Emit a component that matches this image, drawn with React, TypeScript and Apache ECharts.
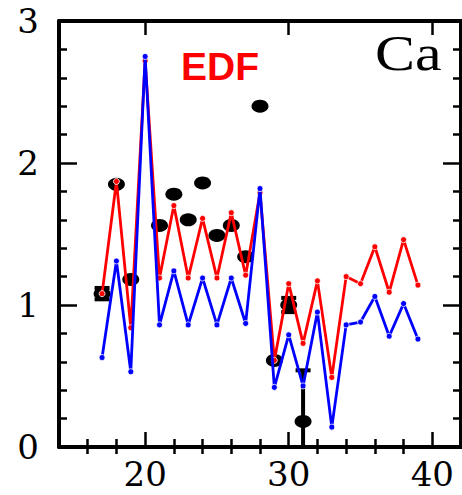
import React, { useEffect, useRef } from "react";
import * as echarts from "echarts";

const xs = [17, 18, 19, 20, 21, 22, 23, 24, 25, 26, 27, 28, 29, 30, 31, 32, 33, 34, 35, 36, 37, 38, 39];
const edfValues = [1.08, 1.87, 0.84, 2.72, 1.19, 1.70, 1.19, 1.61, 1.19, 1.65, 1.21, 1.79, 0.61, 1.15, 0.73, 1.17, 0.49, 1.20, 1.15, 1.41, 1.09, 1.46, 1.14];
const blueValues = [0.63, 1.31, 0.53, 2.75, 0.86, 1.24, 0.86, 1.19, 0.86, 1.19, 0.87, 1.82, 0.42, 0.79, 0.43, 0.95, 0.14, 0.86, 0.88, 1.06, 0.78, 1.01, 0.76];

const expX = [17, 18, 19, 21, 22, 23, 24, 25, 26, 27, 28, 29, 30, 31];
const expValues = [1.08, 1.85, 1.18, 1.56, 1.78, 1.60, 1.86, 1.49, 1.56, 1.34, 2.40, 0.61, 1.00, 0.18];
const expLow = [1.04, 1.85, 1.18, 1.56, 1.78, 1.60, 1.86, 1.49, 1.56, 1.34, 2.40, 0.61, 0.95, 0.0];
const expHigh = [1.12, 1.85, 1.18, 1.56, 1.78, 1.60, 1.86, 1.49, 1.56, 1.34, 2.40, 0.61, 1.05, 0.54];

const majorX = [20, 30, 40];
const minorX = [16, 18, 22, 24, 26, 28, 32, 34, 36, 38];
const majorY = [0, 1, 2, 3];
const minorY = [0.2, 0.4, 0.6, 0.8, 1.2, 1.4, 1.6, 1.8, 2.2, 2.4, 2.6, 2.8];

const SERIF = "'Liberation Serif', 'DejaVu Serif', serif";
const WIDE_SERIF = "'DejaVu Serif', 'Liberation Serif', serif";

export default function App() {
  const ref = useRef<HTMLDivElement>(null);
  useEffect(() => {
    if (!ref.current) return;
    const chart = echarts.init(ref.current, undefined, { renderer: "svg" });
    const tickStyle = { color: "#000", width: 2.5 };
    const xBase = { type: "value", min: 14, max: 42, splitLine: { show: false } };
    const yBase = { type: "value", min: 0, max: 3, splitLine: { show: false } };
    const noLine = { show: false };
    const noLabel = { show: false };
    const mainLine = { show: true, onZero: false, lineStyle: { color: "#000", width: 4 } };
    const labelFont = { color: "#000", fontFamily: WIDE_SERIF, fontSize: 34 };

    const option: any = {
      animation: false,
      grid: { left: 59, right: 1, top: 21, bottom: 48, containLabel: false },
      xAxis: [
        { ...xBase, position: "bottom", axisLine: mainLine,
          axisTick: { show: true, inside: true, length: 15, lineStyle: tickStyle, customValues: majorX },
          axisLabel: { ...labelFont, margin: 10, customValues: majorX } },
        { ...xBase, position: "bottom", axisLine: noLine,
          axisTick: { show: true, inside: true, length: 8, lineStyle: tickStyle, customValues: minorX },
          axisLabel: noLabel },
        { ...xBase, position: "top", axisLine: mainLine,
          axisTick: { show: true, inside: true, length: 14, lineStyle: tickStyle, customValues: majorX },
          axisLabel: noLabel },
        { ...xBase, position: "top", axisLine: noLine,
          axisTick: { show: true, inside: true, length: 7, lineStyle: tickStyle, customValues: minorX },
          axisLabel: noLabel },
      ],
      yAxis: [
        { ...yBase, position: "left", axisLine: mainLine,
          axisTick: { show: true, inside: true, length: 18, lineStyle: tickStyle, customValues: majorY },
          axisLabel: { ...labelFont, margin: 20, customValues: majorY } },
        { ...yBase, position: "left", axisLine: noLine,
          axisTick: { show: true, inside: true, length: 8, lineStyle: tickStyle, customValues: minorY },
          axisLabel: noLabel },
        { ...yBase, position: "right", axisLine: mainLine,
          axisTick: { show: true, inside: true, length: 18, lineStyle: tickStyle, customValues: majorY },
          axisLabel: noLabel },
        { ...yBase, position: "right", axisLine: noLine,
          axisTick: { show: true, inside: true, length: 8, lineStyle: tickStyle, customValues: minorY },
          axisLabel: noLabel },
      ],
      graphic: [
        { type: "text", left: 181, top: 47, style: { text: "EDF", fill: "#ff0000", font: "bold 39px 'Liberation Sans', Arial, sans-serif" } },
        { type: "text", x: 375, y: 28, scaleX: 1.2, style: { text: "Ca", fill: "#000", font: "50px " + SERIF } },
      ],
      series: [
        {
          type: "custom",
          name: "errors",
          xAxisIndex: 0, yAxisIndex: 0,
          data: expX.map((x, i) => [x, expLow[i], expHigh[i]]),
          z: 1,
          clip: true,
          renderItem: (params: any, api: any) => {
            const x = api.value(0);
            const lo = api.value(1);
            const hi = api.value(2);
            if (hi - lo < 0.001) return null;
            const pLo = api.coord([x, lo]);
            const pHi = api.coord([x, hi]);
            const w = 7.5;
            const st = { stroke: "#000", lineWidth: 4 };
            return {
              type: "group",
              children: [
                { type: "line", shape: { x1: pLo[0], y1: pLo[1], x2: pHi[0], y2: pHi[1] }, style: st },
                { type: "line", shape: { x1: pHi[0] - w, y1: pHi[1], x2: pHi[0] + w, y2: pHi[1] }, style: st },
                ...(lo > 0.001 ? [{ type: "line", shape: { x1: pLo[0] - w, y1: pLo[1], x2: pLo[0] + w, y2: pLo[1] }, style: st }] : []),
              ],
            };
          },
        },
        {
          type: "scatter",
          name: "exp",
          xAxisIndex: 0, yAxisIndex: 0,
          data: expX.map((x, i) => [x, expValues[i]]),
          symbol: "circle",
          symbolSize: [17, 13],
          itemStyle: { color: "#000", opacity: 1 },
          z: 2,
        },
        {
          type: "line",
          name: "EDF",
          xAxisIndex: 0, yAxisIndex: 0,
          data: xs.map((x, i) => [x, edfValues[i]]),
          symbol: "circle",
          symbolSize: 6,
          showSymbol: true,
          lineStyle: { color: "#ff0000", width: 2.8 },
          itemStyle: { color: "#ff0000", borderColor: "#fff", borderWidth: 0.8 },
          z: 3,
        },
        {
          type: "line",
          name: "blue",
          xAxisIndex: 0, yAxisIndex: 0,
          data: xs.map((x, i) => [x, blueValues[i]]),
          symbol: "circle",
          symbolSize: 6,
          showSymbol: true,
          lineStyle: { color: "#0000ff", width: 2.8 },
          itemStyle: { color: "#0000ff", borderColor: "#fff", borderWidth: 0.8 },
          z: 4,
        },
      ],
    };
    chart.setOption(option);
    return () => chart.dispose();
  }, []);
  return (
    <div
      ref={ref}
      style={{ position: "fixed", left: 0, top: 0, width: 462, height: 495, background: "#fff" }}
    />
  );
}
